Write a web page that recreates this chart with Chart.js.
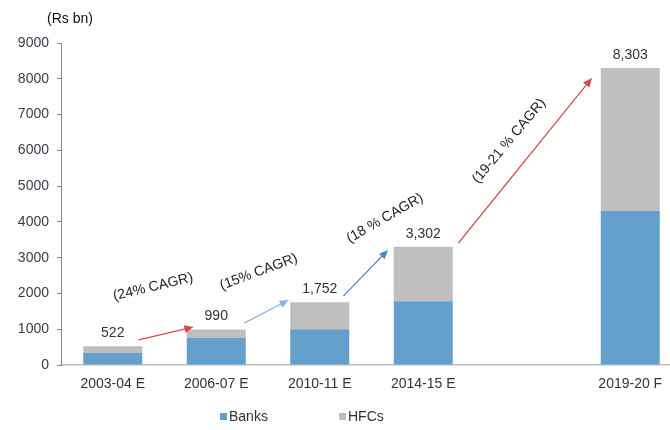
<!DOCTYPE html>
<html>
<head>
<meta charset="utf-8">
<script src="https://cdn.jsdelivr.net/npm/chart.js@4/dist/chart.umd.min.js"></script>
<style>
  html, body { margin: 0; padding: 0; background: #fff; overflow: hidden; }
  #wrap { width: 682px; height: 430px; }
</style>
</head>
<body>
<div id="wrap"><canvas id="c"></canvas></div>
<script>
const categories = ['2003-04 E', '2006-07 E', '2010-11 E', '2014-15 E', '', '2019-20 F'];
const banks = [345, 760, 1000, 1780, null, 4310];
const hfcs = [177, 230, 752, 1522, null, 3993];
const totals = [522, 990, 1752, 3302, null, 8303];
const yTicks = [0, 1000, 2000, 3000, 4000, 5000, 6000, 7000, 8000, 9000];

// CAGR arrows, in data terms: [fromIndex, fromValue, toIndex, toValue]
const arrows = [
    { from: [0.25, 700], to: [0.78, 1060], color: '#d24a4a' },
    { from: [1.27, 1170], to: [1.70, 1815], color: '#86b6e0' },
    { from: [2.23, 1930], to: [2.66, 3215], color: '#4f86c6' },
    { from: [3.34, 3410], to: [4.63, 8020], color: '#d24a4a' }
];
const cagrLabels = [
    { text: '(24% CAGR)', at: [0.39, 2180], angle: -13.5 },
    { text: '(15% CAGR)', at: [1.41, 2600], angle: -20.5 },
    { text: '(18 % CAGR)', at: [2.63, 4100], angle: -30 },
    { text: '(19-21 % CAGR)', at: [3.83, 6260], angle: -50 }
];

const FONT = '"Liberation Sans", Arial, sans-serif';
const BLUE = '#64a0cb';
const GREY = '#bfbfbf';

const extras = {
    id: 'extras',
    afterDatasetsDraw(chart) {
        const { ctx, scales: { x, y } } = chart;
        ctx.save();

        // total labels above each stack
        ctx.font = '14px ' + FONT;
        ctx.fillStyle = '#333';
        ctx.textAlign = 'center';
        ctx.textBaseline = 'bottom';
        totals.forEach((t, i) => {
            if (t == null) return;
            ctx.fillText(t.toLocaleString('en-US'), x.getPixelForValue(i), y.getPixelForValue(t) - 6);
        });

        // arrows
        const px = (p) => [x.getPixelForValue(0) + p[0] * (x.getPixelForValue(1) - x.getPixelForValue(0)), y.getPixelForValue(p[1])];
        arrows.forEach(a => {
            const [x1, y1] = px(a.from);
            const [x2, y2] = px(a.to);
            const ang = Math.atan2(y2 - y1, x2 - x1);
            ctx.strokeStyle = a.color;
            ctx.fillStyle = a.color;
            ctx.lineWidth = 1.2;
            ctx.beginPath();
            ctx.moveTo(x1, y1);
            ctx.lineTo(x2 - 6 * Math.cos(ang), y2 - 6 * Math.sin(ang));
            ctx.stroke();
            ctx.beginPath();
            ctx.moveTo(x2, y2);
            ctx.lineTo(x2 - 9 * Math.cos(ang) + 4 * Math.sin(ang), y2 - 9 * Math.sin(ang) - 4 * Math.cos(ang));
            ctx.lineTo(x2 - 9 * Math.cos(ang) - 4 * Math.sin(ang), y2 - 9 * Math.sin(ang) + 4 * Math.cos(ang));
            ctx.closePath();
            ctx.fill();
        });

        // rotated CAGR labels
        ctx.fillStyle = '#222';
        ctx.textBaseline = 'middle';
        cagrLabels.forEach(l => {
            const [lx, ly] = px(l.at);
            ctx.save();
            ctx.translate(lx, ly);
            ctx.rotate(l.angle * Math.PI / 180);
            ctx.fillText(l.text, 0, 0);
            ctx.restore();
        });

        // axis unit
        ctx.fillStyle = '#111';
        ctx.textAlign = 'center';
        ctx.fillText('(Rs bn)', 70, 19);

        // legend
        const ly = 416;
        chart.data.datasets.forEach((ds, i) => {
            const lx = i === 0 ? 220 : 339;
            ctx.fillStyle = ds.backgroundColor;
            ctx.fillRect(lx, ly - 3, 7, 7);
            ctx.fillStyle = '#333';
            ctx.textAlign = 'left';
            ctx.fillText(ds.label, lx + 9, ly + 1);
        });
        ctx.restore();
    }
};

new Chart(document.getElementById('c'), {
    type: 'bar',
    data: {
        labels: categories,
        datasets: [
            { label: 'Banks', data: banks, backgroundColor: BLUE },
            { label: 'HFCs', data: hfcs, backgroundColor: GREY }
        ]
    },
    options: {
        responsive: true,
        maintainAspectRatio: false,
        animation: false,
        datasets: { bar: { barPercentage: 0.57, categoryPercentage: 1 } },
        layout: { padding: { top: 43, right: 0, bottom: 0, left: 0 } },
        plugins: { legend: { display: false }, tooltip: { enabled: false } },
        scales: {
            x: {
                stacked: true,
                grid: { display: false },
                border: { display: true, color: '#bdbdbd', width: 1.5 },
                ticks: { color: '#333', font: { family: FONT, size: 14 }, padding: 3, maxRotation: 0, autoSkip: false },
                afterFit(scale) { scale.height = 65; }
            },
            y: {
                stacked: true,
                min: 0,
                max: 9000,
                afterBuildTicks(scale) { scale.ticks = yTicks.map(v => ({ value: v })); },
                grid: { display: true, drawOnChartArea: false, drawTicks: true, tickLength: 4, color: '#888' },
                border: { display: true, color: '#888' },
                ticks: { color: '#3a3a4a', font: { family: FONT, size: 14 }, padding: 8, callback: (v) => String(v) },
                afterFit(scale) { scale.width = 61; }
            }
        }
    },
    plugins: [extras]
});
</script>
</body>
</html>
